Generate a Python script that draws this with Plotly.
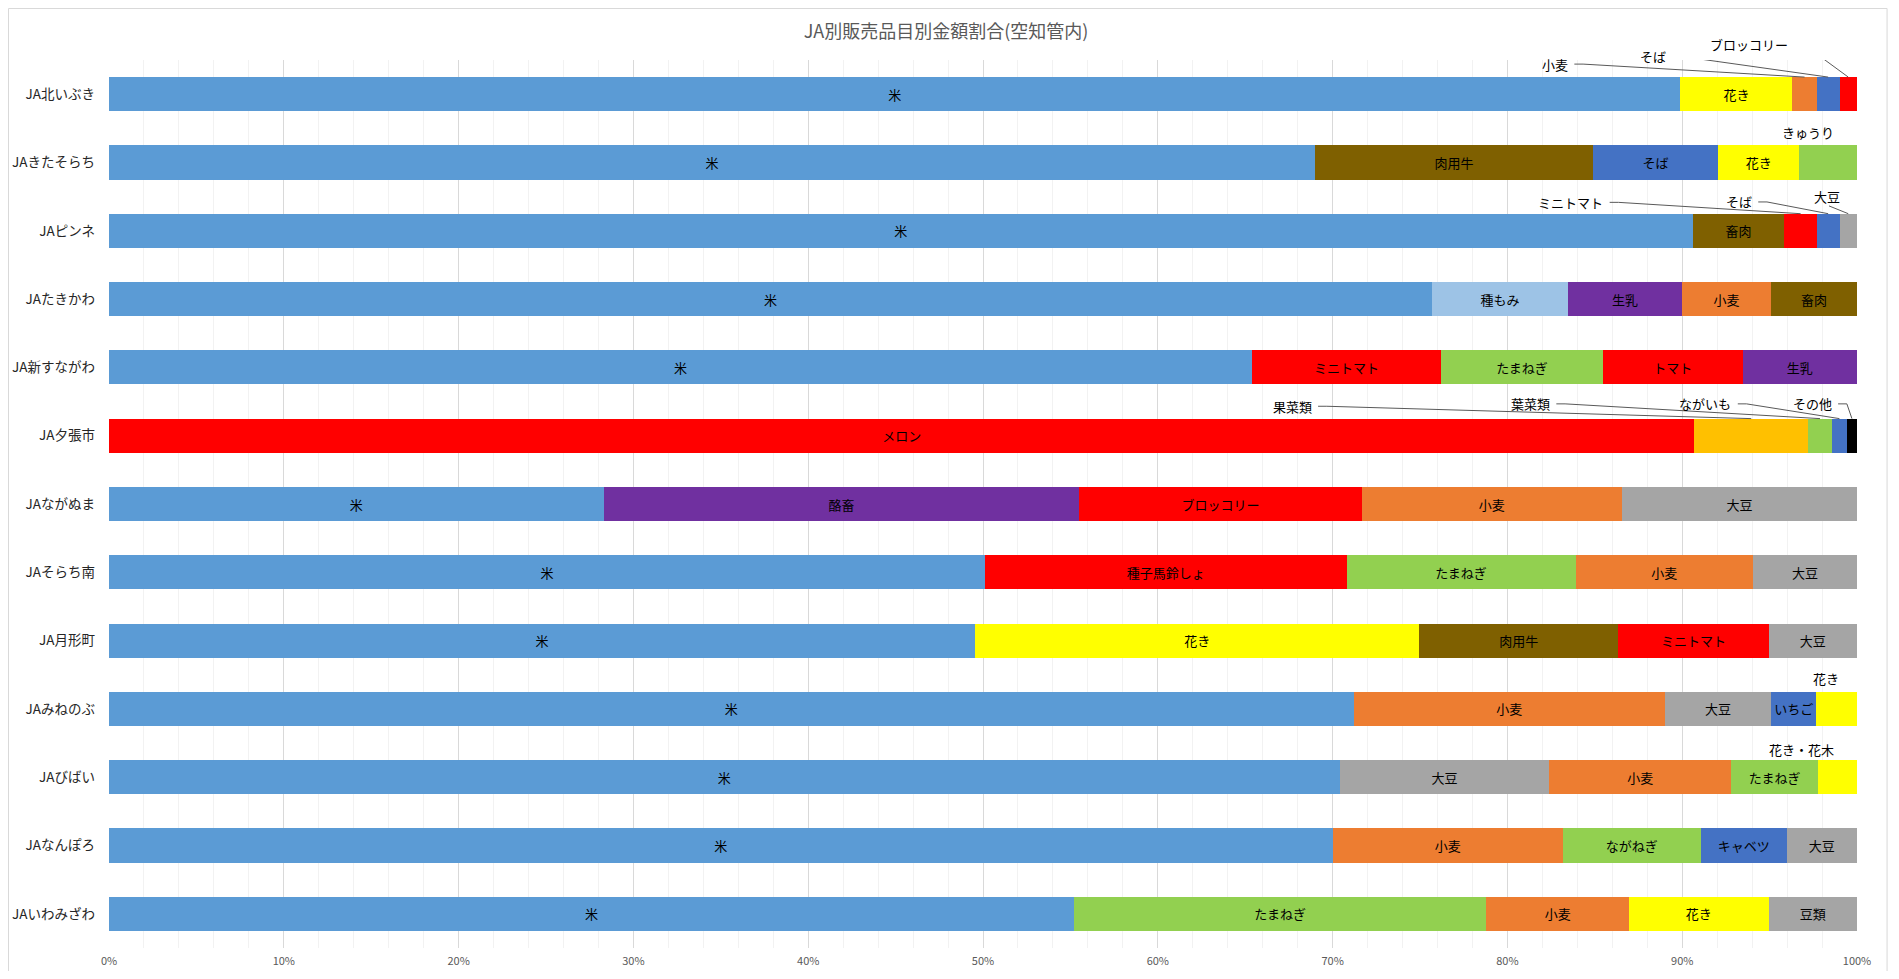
import plotly.graph_objects as go

# ---------------- data ----------------
ja_names = ["JA北いぶき", "JAきたそらち", "JAピンネ", "JAたきかわ", "JA新すながわ", "JA夕張市",
            "JAながぬま", "JAそらち南", "JA月形町", "JAみねのぶ", "JAびばい", "JAなんぽろ", "JAいわみざわ"]

seg1_items = ["米", "米", "米", "米", "米", "メロン", "米", "米", "米", "米", "米", "米", "米"]
seg1_values = [89.9, 69.0, 90.6, 75.7, 65.4, 90.7, 28.3, 50.1, 49.55, 71.2, 70.4, 70.0, 55.2]

seg2_items = ["花き", "肉用牛", "畜肉", "種もみ", "ミニトマト", "果菜類", "酪畜", "種子馬鈴しょ", "花き", "小麦", "大豆", "小麦", "たまねぎ"]
seg2_values = [6.4, 15.9, 5.25, 7.75, 10.8, 6.5, 27.2, 20.7, 25.4, 17.8, 12.0, 13.17, 23.6]

seg3_items = ["小麦", "そば", "ミニトマト", "生乳", "たまねぎ", "葉菜類", "ブロッコリー", "たまねぎ", "肉用牛", "大豆", "小麦", "ながねぎ", "小麦"]
seg3_values = [1.4, 7.15, 1.85, 6.55, 9.27, 1.37, 16.16, 13.1, 11.4, 6.1, 10.4, 7.9, 8.15]

seg4_items = ["そば", "花き", "そば", "小麦", "トマト", "ながいも", "小麦", "小麦", "ミニトマト", "いちご", "たまねぎ", "キャベツ", "花き"]
seg4_values = [1.3, 4.65, 1.3, 5.07, 7.98, 0.85, 14.9, 10.15, 8.6, 2.55, 4.97, 4.9, 8.0]

seg5_items = ["ブロッコリー", "きゅうり", "大豆", "畜肉", "生乳", "その他", "大豆", "大豆", "大豆", "花き", "花き・花木", "大豆", "豆類"]
seg5_values = [1.0, 3.3, 1.0, 4.93, 6.55, 0.58, 13.44, 5.95, 5.05, 2.35, 2.23, 4.03, 5.05]

x_tick_values = list(range(0, 101, 10))
x_tick_labels = [f"{v}%" for v in x_tick_values]

# ---------------- style ----------------
item_colors = {
    "米": "#5B9BD5", "花き": "#FFFF00", "小麦": "#ED7D31", "そば": "#4472C4",
    "ブロッコリー": "#FF0000", "肉用牛": "#7F6000", "畜肉": "#7F6000", "きゅうり": "#92D050",
    "ミニトマト": "#FF0000", "大豆": "#A5A5A5", "種もみ": "#9DC3E6", "生乳": "#7030A0",
    "たまねぎ": "#92D050", "トマト": "#FF0000", "メロン": "#FF0000", "果菜類": "#FFC000",
    "葉菜類": "#92D050", "ながいも": "#4472C4", "その他": "#000000", "酪畜": "#7030A0",
    "種子馬鈴しょ": "#FF0000", "いちご": "#4472C4", "花き・花木": "#FFFF00",
    "ながねぎ": "#92D050", "キャベツ": "#4472C4", "豆類": "#A5A5A5",
}

FONT = "Noto Sans CJK JP, Noto Sans, sans-serif"
LINE_COLOR = "#595959"

# externally placed labels: (row, segment, x position %, y position, anchor, leader type)
outside_labels = [
    (0, 3, 83.58, -0.44, "right", "elbow"),
    (0, 4, 89.19, -0.553, "right", "elbow"),
    (0, 5, 96.17, -0.734, "right", "elbow"),
    (1, 5, 97.17, 0.56, "center", None),
    (2, 3, 85.6, 1.584, "right", "elbow"),
    (2, 4, 94.1, 1.578, "right", "elbow"),
    (2, 5, 98.3, 1.496, "center", "straight"),
    (5, 2, 68.92, 4.569, "right", "elbow"),
    (5, 3, 82.55, 4.534, "right", "elbow"),
    (5, 4, 92.93, 4.534, "right", "elbow"),
    (5, 5, 98.67, 4.534, "right", "elbow"),
    (9, 5, 98.2, 8.554, "center", None),
    (10, 5, 96.8, 9.594, "center", None),
]
outside_set = {(r, s) for r, s, *_ in outside_labels}

segments = [
    (seg1_items, seg1_values), (seg2_items, seg2_values), (seg3_items, seg3_values),
    (seg4_items, seg4_values), (seg5_items, seg5_values),
]

rows = list(range(len(ja_names)))
Y_TOP, Y_BOTTOM = -0.5, len(ja_names) - 0.5

fig = go.Figure()
for si, (items, values) in enumerate(segments, start=1):
    texts = ["" if (r, si) in outside_set else items[r] for r in rows]
    fig.add_trace(go.Bar(
        y=rows, x=values, orientation="h", width=0.5,
        marker=dict(color=[item_colors[it] for it in items], line=dict(width=0)),
        text=texts, textposition="inside", insidetextanchor="middle", textangle=0,
        insidetextfont=dict(family=FONT, size=13, color="#000000"),
        hoverinfo="skip", showlegend=False,
    ))

# cumulative starts for leader tips
starts = []
acc = [0.0] * len(rows)
for items, values in segments:
    starts.append(list(acc))
    acc = [a + v for a, v in zip(acc, values)]


def to_domain(yv):
    return (Y_BOTTOM - yv) / (Y_BOTTOM - Y_TOP)


annotations = []
shapes = []
for r, s, lx, ly, anchor, leader in outside_labels:
    items, values = segments[s - 1]
    annotations.append(dict(
        x=lx, y=to_domain(ly), xref="x", yref="y domain", text=items[r], showarrow=False,
        xanchor=anchor, yanchor="middle",
        font=dict(family=FONT, size=13, color="#000000"),
    ))
    tip_x = starts[s - 1][r] + values[r] / 2
    tip_y = r - 0.25
    if leader == "elbow":
        x_a = lx + 0.25
        x_b = lx + 0.75
        shapes.append(dict(type="line", xref="x", yref="y", x0=x_a, y0=ly, x1=x_b, y1=ly,
                           line=dict(color=LINE_COLOR, width=1)))
        shapes.append(dict(type="line", xref="x", yref="y", x0=x_b, y0=ly, x1=tip_x, y1=tip_y,
                           line=dict(color=LINE_COLOR, width=1)))
    elif leader == "straight":
        shapes.append(dict(type="line", xref="x", yref="y", x0=lx + 0.1, y0=ly + 0.14,
                           x1=tip_x, y1=tip_y, line=dict(color=LINE_COLOR, width=1)))

# chart-area border
shapes.append(dict(type="rect", xref="paper", yref="paper", x0=-0.0575, x1=1.0172,
                   y0=-0.06, y1=1.058, line=dict(color="#D9D9D9", width=1),
                   fillcolor="rgba(0,0,0,0)", layer="below"))

W, H = 1883, 963
fig.update_layout(
    width=W, height=H,
    margin=dict(l=101, r=34, t=52, b=23, pad=0, autoexpand=False),
    paper_bgcolor="#FFFFFF", plot_bgcolor="#FFFFFF",
    barmode="stack", bargap=0.5,
    title=dict(text="JA別販売品目別金額割合(空知管内)", x=938 / W, xanchor="center",
               y=1 - 23.5 / H, yanchor="middle", yref="container",
               font=dict(family=FONT, size=18, color="#595959")),
    xaxis=dict(range=[0, 100], tickvals=x_tick_values, ticktext=x_tick_labels,
               showgrid=True, gridcolor="#D9D9D9", gridwidth=1, zeroline=False,
               showline=False, ticks="outside", ticklen=3, tickcolor="rgba(0,0,0,0)",
               automargin=False,
               minor=dict(dtick=2, showgrid=True, gridcolor="#F2F2F2", gridwidth=1),
               tickfont=dict(family=FONT, size=11, color="#595959"), fixedrange=True),
    yaxis=dict(range=[Y_BOTTOM, Y_TOP], tickvals=rows, ticktext=ja_names, showgrid=False,
               zeroline=False, showline=False, ticks="", ticklabelstandoff=13,
               automargin=False,
               tickfont=dict(family=FONT, size=13.5, color="#262626"), fixedrange=True),
    uniformtext=dict(mode="show", minsize=13),
    annotations=annotations, shapes=shapes,
    font=dict(family=FONT),
)

fig.write_html("out.html")
